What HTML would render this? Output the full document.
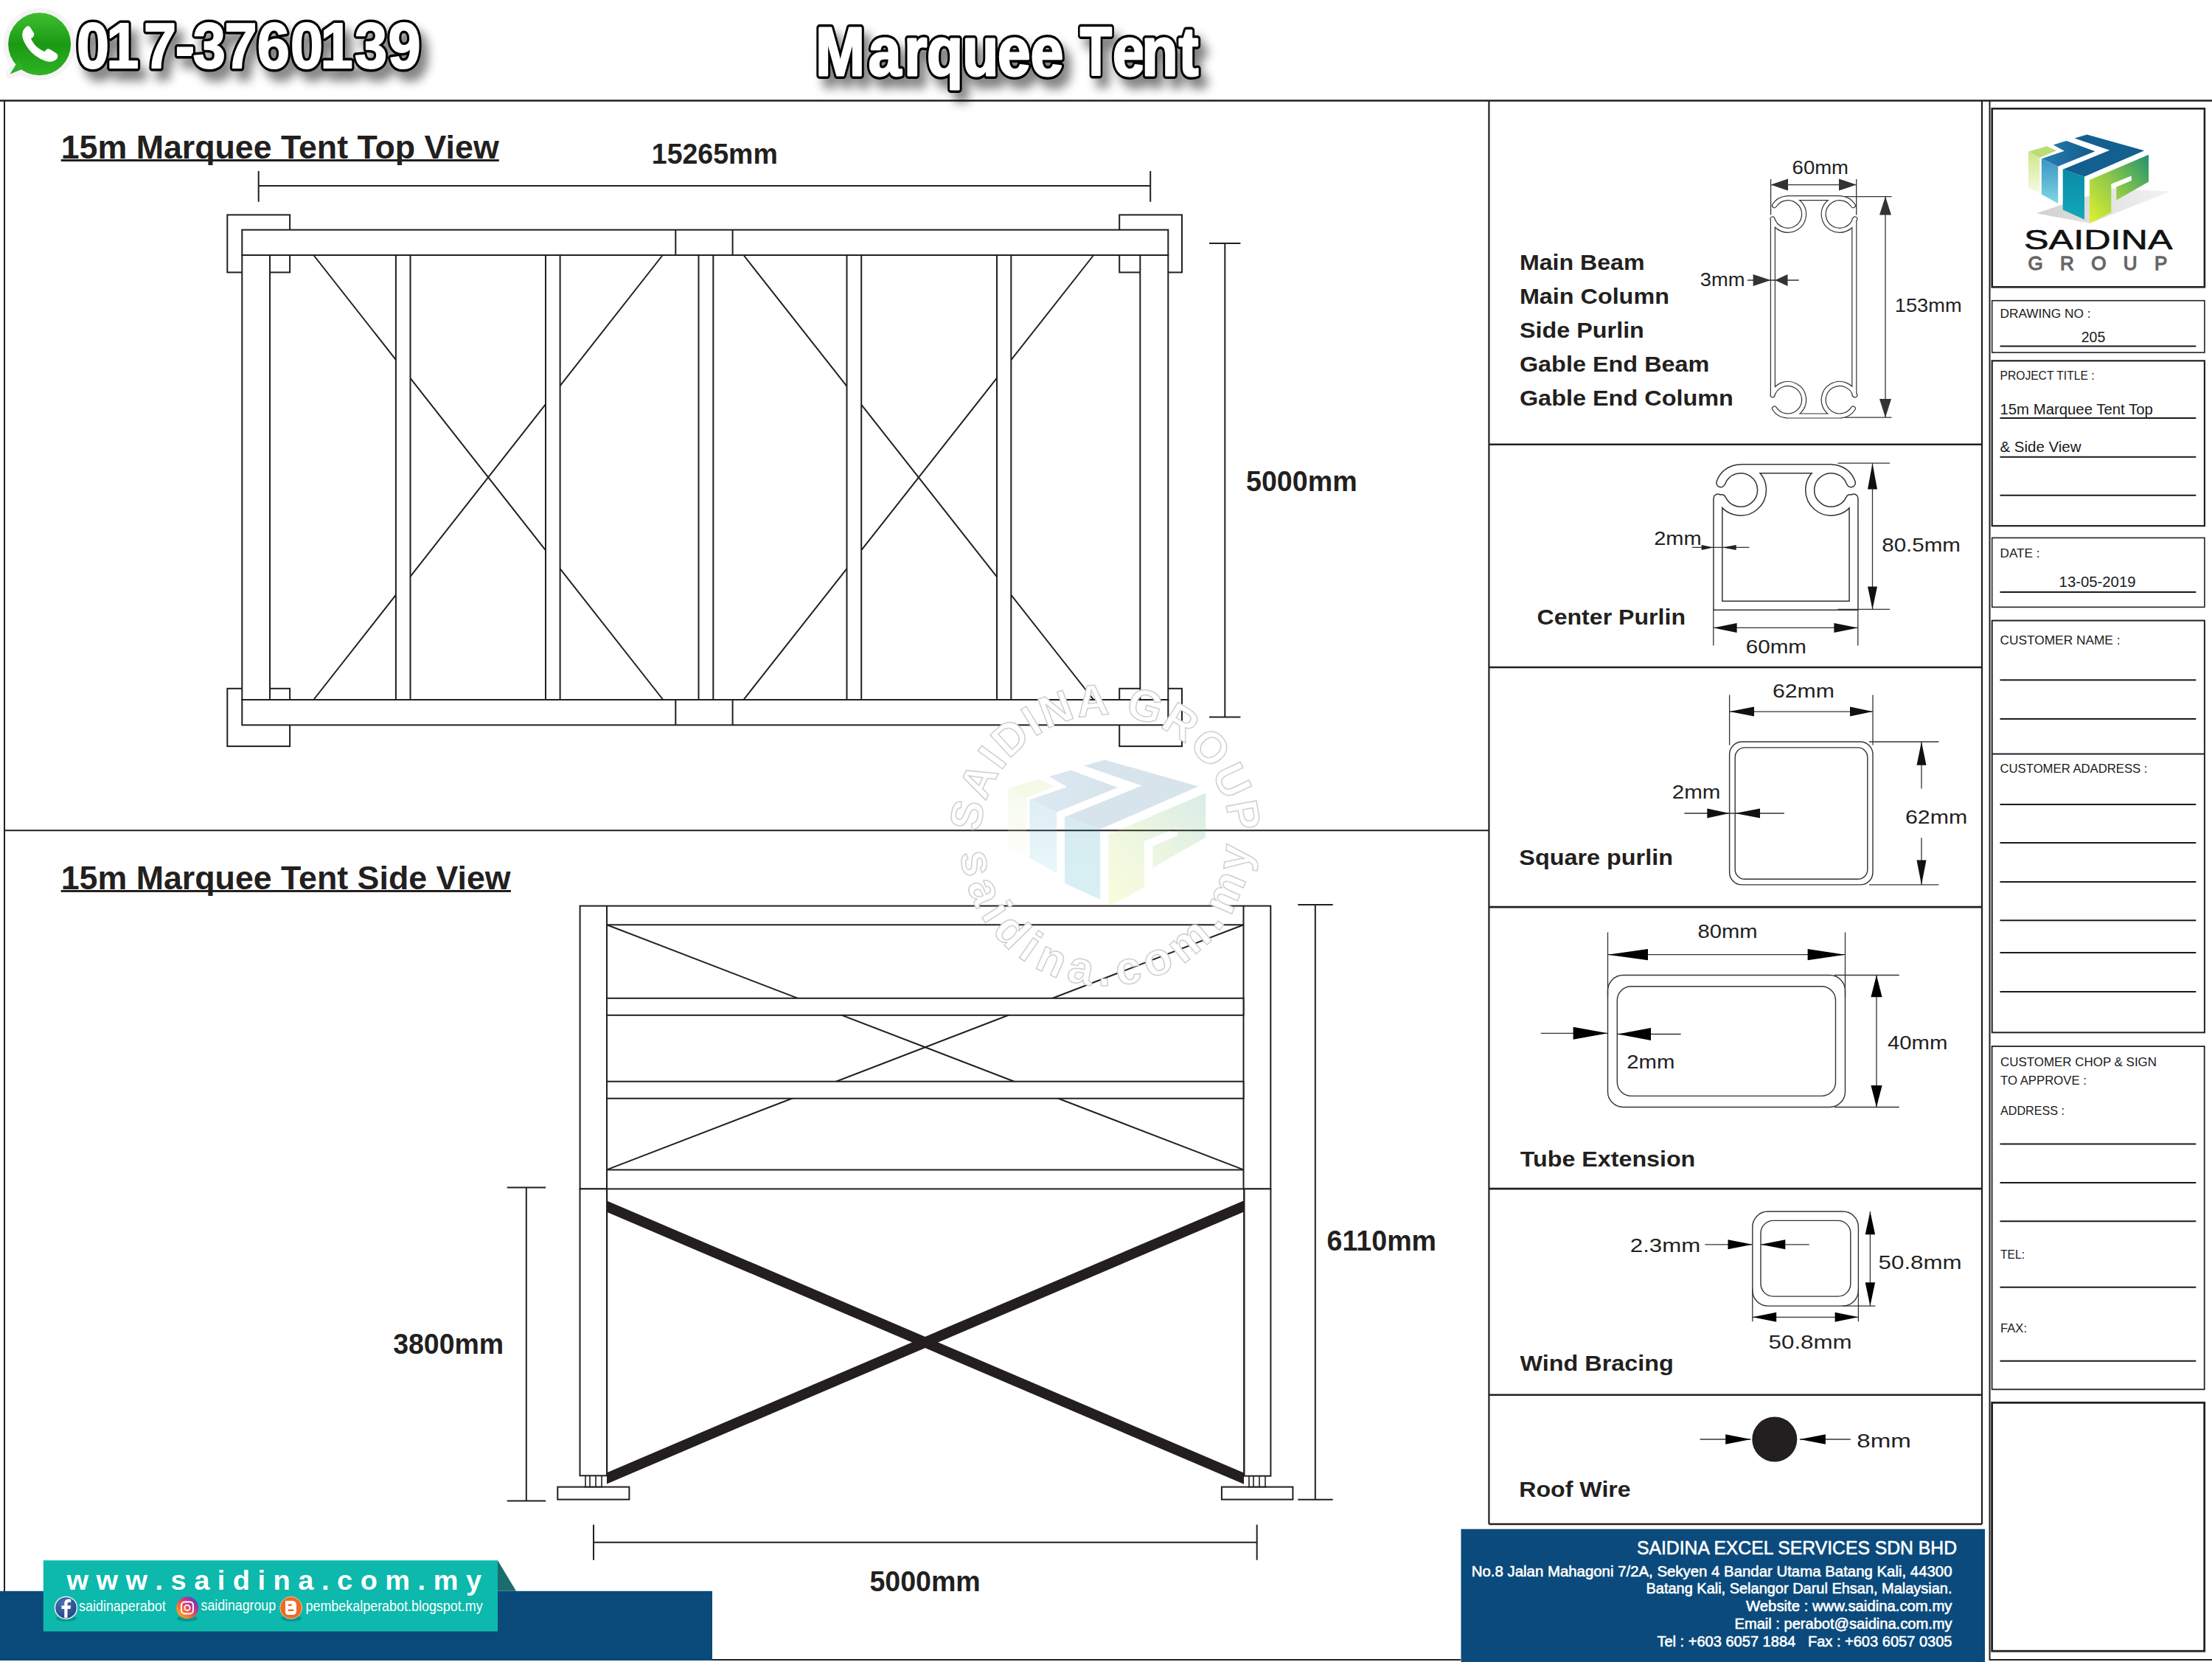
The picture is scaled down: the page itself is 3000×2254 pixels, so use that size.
<!DOCTYPE html>
<html><head><meta charset="utf-8"><title>Marquee Tent</title>
<style>html,body{margin:0;padding:0;background:#fff;width:3000px;height:2254px;overflow:hidden;position:relative;font-family:"Liberation Sans",sans-serif}</style>
</head><body>
<svg width="3000" height="2254" viewBox="0 0 3000 2254" style="position:absolute;left:0;top:0">
<defs>
<filter id="sh" x="-10%" y="-30%" width="130%" height="180%"><feGaussianBlur in="SourceAlpha" stdDeviation="7"/><feOffset dx="9" dy="13"/><feComponentTransfer><feFuncA type="linear" slope="0.5"/></feComponentTransfer><feMerge><feMergeNode/><feMergeNode in="SourceGraphic"/></feMerge></filter>
<linearGradient id="wa" x1="0" y1="0" x2="0" y2="1"><stop offset="0" stop-color="#3fbf2e"/><stop offset="0.5" stop-color="#1a9a14"/><stop offset="1" stop-color="#2fb225"/></linearGradient>
<linearGradient id="lg1" x1="0" y1="0" x2="0" y2="1"><stop offset="0" stop-color="#cfe88a"/><stop offset="1" stop-color="#f6f9e6"/></linearGradient>
<linearGradient id="lg2" x1="0" y1="0" x2="0" y2="1"><stop offset="0" stop-color="#3b93c4"/><stop offset="1" stop-color="#7fd8e2"/></linearGradient>
<linearGradient id="lg3" x1="0" y1="0" x2="1" y2="0"><stop offset="0" stop-color="#2a7db3"/><stop offset="1" stop-color="#0f5a8a"/></linearGradient>
<linearGradient id="lg4" x1="0" y1="0" x2="0" y2="1"><stop offset="0" stop-color="#0a8aa6"/><stop offset="1" stop-color="#12a8b8"/></linearGradient>
<linearGradient id="lg5" x1="0" y1="1" x2="1" y2="0"><stop offset="0" stop-color="#e2f22e"/><stop offset="0.5" stop-color="#8cc84a"/><stop offset="1" stop-color="#22916e"/></linearGradient>
<linearGradient id="lg6" x1="0" y1="0" x2="1" y2="0"><stop offset="0" stop-color="#d0d0d0"/><stop offset="1" stop-color="#f4f4f4"/></linearGradient>
<radialGradient id="fbg" cx="0.4" cy="0.3" r="0.8"><stop offset="0" stop-color="#4a74b8"/><stop offset="1" stop-color="#1c3f7a"/></radialGradient>
<linearGradient id="igg" x1="0.1" y1="0.9" x2="0.9" y2="0.1"><stop offset="0" stop-color="#f9a825"/><stop offset="0.35" stop-color="#ef6c3a"/><stop offset="0.65" stop-color="#c8358a"/><stop offset="1" stop-color="#5f3dc4"/></linearGradient>
</defs>
<rect x="0" y="0" width="3000" height="2254" fill="#fff"/>
<line x1="0.0" y1="136.5" x2="3000.0" y2="136.5" stroke="#231f20" stroke-width="2.4" />
<line x1="6.0" y1="136.5" x2="6.0" y2="2158.0" stroke="#231f20" stroke-width="2" />
<line x1="6.0" y1="1126.2" x2="2019.4" y2="1126.2" stroke="#231f20" stroke-width="2" />
<line x1="2019.4" y1="136.5" x2="2019.4" y2="2067.0" stroke="#231f20" stroke-width="2.2" />
<line x1="2688.0" y1="136.5" x2="2688.0" y2="2067.0" stroke="#231f20" stroke-width="2.2" />
<line x1="2698.5" y1="136.5" x2="2698.5" y2="2252.0" stroke="#231f20" stroke-width="2" />
<line x1="2019.4" y1="602.8" x2="2688.0" y2="602.8" stroke="#231f20" stroke-width="2.6" />
<line x1="2019.4" y1="905.0" x2="2688.0" y2="905.0" stroke="#231f20" stroke-width="2.6" />
<line x1="2019.4" y1="1230.1" x2="2688.0" y2="1230.1" stroke="#231f20" stroke-width="2.6" />
<line x1="2019.4" y1="1612.1" x2="2688.0" y2="1612.1" stroke="#231f20" stroke-width="2.6" />
<line x1="2019.4" y1="1891.7" x2="2688.0" y2="1891.7" stroke="#231f20" stroke-width="2.6" />
<line x1="2019.4" y1="2067.0" x2="2688.0" y2="2067.0" stroke="#231f20" stroke-width="2.6" />
<line x1="6.0" y1="2251.0" x2="1981.0" y2="2251.0" stroke="#231f20" stroke-width="2" />
<line x1="2698.5" y1="2251.0" x2="3000.0" y2="2251.0" stroke="#231f20" stroke-width="2" />
<g>
<circle cx="53.6" cy="59.7" r="49" fill="#f4f4f4"/>
<path d="M 22 86 L 13.5 100.5 L 30 95 Z" fill="#f4f4f4" stroke="#f4f4f4" stroke-width="12" stroke-linejoin="round"/>
<circle cx="53.6" cy="59.7" r="42.5" fill="url(#wa)"/>
<path d="M 25 82 L 13.5 100.5 L 32 93 Z" fill="#2db125"/>
<path d="M 34 38 C 30 42 29 48 32 55 C 37 67 47 77 60 82 C 67 85 73 84 77 80 C 79 77 79 74 76 72 L 68 67 C 65 65 62 67 61 70 C 52 67 45 60 42 52 C 45 51 47 48 46 45 L 41 37 C 39 34 36 35 34 38 Z" fill="#fff"/>
</g>
<g filter="url(#sh)">
<text x="103.9" y="92.2" font-family="Liberation Sans" font-weight="bold" font-size="88" fill="#000" stroke="#000" stroke-width="9" stroke-linejoin="round" textLength="44.1" lengthAdjust="spacingAndGlyphs">0</text>
<text x="103.9" y="92.2" font-family="Liberation Sans" font-weight="bold" font-size="88" fill="#fff" stroke="#fff" stroke-width="2" stroke-linejoin="round" textLength="44.1" lengthAdjust="spacingAndGlyphs">0</text>
<text x="144.2" y="92.2" font-family="Liberation Sans" font-weight="bold" font-size="88" fill="#000" stroke="#000" stroke-width="9" stroke-linejoin="round" textLength="44.1" lengthAdjust="spacingAndGlyphs">1</text>
<text x="144.2" y="92.2" font-family="Liberation Sans" font-weight="bold" font-size="88" fill="#fff" stroke="#fff" stroke-width="2" stroke-linejoin="round" textLength="44.1" lengthAdjust="spacingAndGlyphs">1</text>
<text x="195.0" y="92.2" font-family="Liberation Sans" font-weight="bold" font-size="88" fill="#000" stroke="#000" stroke-width="9" stroke-linejoin="round" textLength="44.1" lengthAdjust="spacingAndGlyphs">7</text>
<text x="195.0" y="92.2" font-family="Liberation Sans" font-weight="bold" font-size="88" fill="#fff" stroke="#fff" stroke-width="2" stroke-linejoin="round" textLength="44.1" lengthAdjust="spacingAndGlyphs">7</text>
<text x="237.7" y="92.2" font-family="Liberation Sans" font-weight="bold" font-size="88" fill="#000" stroke="#000" stroke-width="9" stroke-linejoin="round" textLength="26.4" lengthAdjust="spacingAndGlyphs">-</text>
<text x="237.7" y="92.2" font-family="Liberation Sans" font-weight="bold" font-size="88" fill="#fff" stroke="#fff" stroke-width="2" stroke-linejoin="round" textLength="26.4" lengthAdjust="spacingAndGlyphs">-</text>
<text x="261.7" y="92.2" font-family="Liberation Sans" font-weight="bold" font-size="88" fill="#000" stroke="#000" stroke-width="9" stroke-linejoin="round" textLength="44.1" lengthAdjust="spacingAndGlyphs">3</text>
<text x="261.7" y="92.2" font-family="Liberation Sans" font-weight="bold" font-size="88" fill="#fff" stroke="#fff" stroke-width="2" stroke-linejoin="round" textLength="44.1" lengthAdjust="spacingAndGlyphs">3</text>
<text x="304.6" y="92.2" font-family="Liberation Sans" font-weight="bold" font-size="88" fill="#000" stroke="#000" stroke-width="9" stroke-linejoin="round" textLength="44.1" lengthAdjust="spacingAndGlyphs">7</text>
<text x="304.6" y="92.2" font-family="Liberation Sans" font-weight="bold" font-size="88" fill="#fff" stroke="#fff" stroke-width="2" stroke-linejoin="round" textLength="44.1" lengthAdjust="spacingAndGlyphs">7</text>
<text x="348.7" y="92.2" font-family="Liberation Sans" font-weight="bold" font-size="88" fill="#000" stroke="#000" stroke-width="9" stroke-linejoin="round" textLength="44.1" lengthAdjust="spacingAndGlyphs">6</text>
<text x="348.7" y="92.2" font-family="Liberation Sans" font-weight="bold" font-size="88" fill="#fff" stroke="#fff" stroke-width="2" stroke-linejoin="round" textLength="44.1" lengthAdjust="spacingAndGlyphs">6</text>
<text x="394.0" y="92.2" font-family="Liberation Sans" font-weight="bold" font-size="88" fill="#000" stroke="#000" stroke-width="9" stroke-linejoin="round" textLength="44.1" lengthAdjust="spacingAndGlyphs">0</text>
<text x="394.0" y="92.2" font-family="Liberation Sans" font-weight="bold" font-size="88" fill="#fff" stroke="#fff" stroke-width="2" stroke-linejoin="round" textLength="44.1" lengthAdjust="spacingAndGlyphs">0</text>
<text x="434.6" y="92.2" font-family="Liberation Sans" font-weight="bold" font-size="88" fill="#000" stroke="#000" stroke-width="9" stroke-linejoin="round" textLength="44.1" lengthAdjust="spacingAndGlyphs">1</text>
<text x="434.6" y="92.2" font-family="Liberation Sans" font-weight="bold" font-size="88" fill="#fff" stroke="#fff" stroke-width="2" stroke-linejoin="round" textLength="44.1" lengthAdjust="spacingAndGlyphs">1</text>
<text x="481.0" y="92.2" font-family="Liberation Sans" font-weight="bold" font-size="88" fill="#000" stroke="#000" stroke-width="9" stroke-linejoin="round" textLength="44.1" lengthAdjust="spacingAndGlyphs">3</text>
<text x="481.0" y="92.2" font-family="Liberation Sans" font-weight="bold" font-size="88" fill="#fff" stroke="#fff" stroke-width="2" stroke-linejoin="round" textLength="44.1" lengthAdjust="spacingAndGlyphs">3</text>
<text x="526.6" y="92.2" font-family="Liberation Sans" font-weight="bold" font-size="88" fill="#000" stroke="#000" stroke-width="9" stroke-linejoin="round" textLength="44.1" lengthAdjust="spacingAndGlyphs">9</text>
<text x="526.6" y="92.2" font-family="Liberation Sans" font-weight="bold" font-size="88" fill="#fff" stroke="#fff" stroke-width="2" stroke-linejoin="round" textLength="44.1" lengthAdjust="spacingAndGlyphs">9</text>
</g>
<g filter="url(#sh)">
<text x="1106.2" y="102" font-family="Liberation Sans" font-weight="bold" font-size="93" fill="#000" stroke="#000" stroke-width="10" stroke-linejoin="round" textLength="66.6" lengthAdjust="spacingAndGlyphs">M</text>
<text x="1106.2" y="102" font-family="Liberation Sans" font-weight="bold" font-size="93" fill="#fff" stroke="#fff" stroke-width="3" stroke-linejoin="round" textLength="66.6" lengthAdjust="spacingAndGlyphs">M</text>
<text x="1177.7" y="102" font-family="Liberation Sans" font-weight="bold" font-size="93" fill="#000" stroke="#000" stroke-width="10" stroke-linejoin="round" textLength="44.5" lengthAdjust="spacingAndGlyphs">a</text>
<text x="1177.7" y="102" font-family="Liberation Sans" font-weight="bold" font-size="93" fill="#fff" stroke="#fff" stroke-width="3" stroke-linejoin="round" textLength="44.5" lengthAdjust="spacingAndGlyphs">a</text>
<text x="1226.3" y="102" font-family="Liberation Sans" font-weight="bold" font-size="93" fill="#000" stroke="#000" stroke-width="10" stroke-linejoin="round" textLength="31.1" lengthAdjust="spacingAndGlyphs">r</text>
<text x="1226.3" y="102" font-family="Liberation Sans" font-weight="bold" font-size="93" fill="#fff" stroke="#fff" stroke-width="3" stroke-linejoin="round" textLength="31.1" lengthAdjust="spacingAndGlyphs">r</text>
<text x="1257.0" y="102" font-family="Liberation Sans" font-weight="bold" font-size="93" fill="#000" stroke="#000" stroke-width="10" stroke-linejoin="round" textLength="48.9" lengthAdjust="spacingAndGlyphs">q</text>
<text x="1257.0" y="102" font-family="Liberation Sans" font-weight="bold" font-size="93" fill="#fff" stroke="#fff" stroke-width="3" stroke-linejoin="round" textLength="48.9" lengthAdjust="spacingAndGlyphs">q</text>
<text x="1305.2" y="102" font-family="Liberation Sans" font-weight="bold" font-size="93" fill="#000" stroke="#000" stroke-width="10" stroke-linejoin="round" textLength="48.9" lengthAdjust="spacingAndGlyphs">u</text>
<text x="1305.2" y="102" font-family="Liberation Sans" font-weight="bold" font-size="93" fill="#fff" stroke="#fff" stroke-width="3" stroke-linejoin="round" textLength="48.9" lengthAdjust="spacingAndGlyphs">u</text>
<text x="1353.0" y="102" font-family="Liberation Sans" font-weight="bold" font-size="93" fill="#000" stroke="#000" stroke-width="10" stroke-linejoin="round" textLength="44.5" lengthAdjust="spacingAndGlyphs">e</text>
<text x="1353.0" y="102" font-family="Liberation Sans" font-weight="bold" font-size="93" fill="#fff" stroke="#fff" stroke-width="3" stroke-linejoin="round" textLength="44.5" lengthAdjust="spacingAndGlyphs">e</text>
<text x="1397.7" y="102" font-family="Liberation Sans" font-weight="bold" font-size="93" fill="#000" stroke="#000" stroke-width="10" stroke-linejoin="round" textLength="44.5" lengthAdjust="spacingAndGlyphs">e</text>
<text x="1397.7" y="102" font-family="Liberation Sans" font-weight="bold" font-size="93" fill="#fff" stroke="#fff" stroke-width="3" stroke-linejoin="round" textLength="44.5" lengthAdjust="spacingAndGlyphs">e</text>
<text x="1464.9" y="102" font-family="Liberation Sans" font-weight="bold" font-size="93" fill="#000" stroke="#000" stroke-width="10" stroke-linejoin="round" textLength="42.9" lengthAdjust="spacingAndGlyphs">T</text>
<text x="1464.9" y="102" font-family="Liberation Sans" font-weight="bold" font-size="93" fill="#fff" stroke="#fff" stroke-width="3" stroke-linejoin="round" textLength="42.9" lengthAdjust="spacingAndGlyphs">T</text>
<text x="1509.0" y="102" font-family="Liberation Sans" font-weight="bold" font-size="93" fill="#000" stroke="#000" stroke-width="10" stroke-linejoin="round" textLength="44.5" lengthAdjust="spacingAndGlyphs">e</text>
<text x="1509.0" y="102" font-family="Liberation Sans" font-weight="bold" font-size="93" fill="#fff" stroke="#fff" stroke-width="3" stroke-linejoin="round" textLength="44.5" lengthAdjust="spacingAndGlyphs">e</text>
<text x="1548.6" y="102" font-family="Liberation Sans" font-weight="bold" font-size="93" fill="#000" stroke="#000" stroke-width="10" stroke-linejoin="round" textLength="48.9" lengthAdjust="spacingAndGlyphs">n</text>
<text x="1548.6" y="102" font-family="Liberation Sans" font-weight="bold" font-size="93" fill="#fff" stroke="#fff" stroke-width="3" stroke-linejoin="round" textLength="48.9" lengthAdjust="spacingAndGlyphs">n</text>
<text x="1598.8" y="102" font-family="Liberation Sans" font-weight="bold" font-size="93" fill="#000" stroke="#000" stroke-width="10" stroke-linejoin="round" textLength="26.6" lengthAdjust="spacingAndGlyphs">t</text>
<text x="1598.8" y="102" font-family="Liberation Sans" font-weight="bold" font-size="93" fill="#fff" stroke="#fff" stroke-width="3" stroke-linejoin="round" textLength="26.6" lengthAdjust="spacingAndGlyphs">t</text>
</g>
<text x="82.7" y="214.7" font-family="Liberation Sans" font-size="44" font-weight="bold" fill="#231f20" text-anchor="start" textLength="594.0" lengthAdjust="spacingAndGlyphs" >15m Marquee Tent Top View</text>
<line x1="82.7" y1="217.5" x2="676.8" y2="217.5" stroke="#231f20" stroke-width="3" />
<text x="883.8" y="221.5" font-family="Liberation Sans" font-size="38" font-weight="bold" fill="#231f20" text-anchor="start" textLength="171.0" lengthAdjust="spacingAndGlyphs" >15265mm</text>
<line x1="350.7" y1="252.0" x2="1560.2" y2="252.0" stroke="#231f20" stroke-width="2" />
<line x1="350.7" y1="232.0" x2="350.7" y2="273.7" stroke="#231f20" stroke-width="2" />
<line x1="1560.2" y1="232.0" x2="1560.2" y2="273.7" stroke="#231f20" stroke-width="2" />
<rect x="308.3" y="291.4" width="84.8" height="78.0" stroke="#231f20" stroke-width="2" fill="#fff" />
<rect x="308.3" y="933.8" width="84.8" height="78.3" stroke="#231f20" stroke-width="2" fill="#fff" />
<rect x="1518.2" y="291.4" width="84.8" height="78.0" stroke="#231f20" stroke-width="2" fill="#fff" />
<rect x="1518.2" y="933.8" width="84.8" height="78.3" stroke="#231f20" stroke-width="2" fill="#fff" />
<line x1="425.3" y1="346.0" x2="899.3" y2="949.0" stroke="#231f20" stroke-width="2" />
<line x1="898.7" y1="346.0" x2="425.3" y2="949.0" stroke="#231f20" stroke-width="2" />
<line x1="1008.5" y1="346.0" x2="1483.2" y2="949.0" stroke="#231f20" stroke-width="2" />
<line x1="1483.2" y1="346.0" x2="1008.5" y2="949.0" stroke="#231f20" stroke-width="2" />
<rect x="536.9" y="346.0" width="19.6" height="603.0" stroke="#231f20" stroke-width="2" fill="#fff" />
<rect x="740.0" y="346.0" width="19.6" height="603.0" stroke="#231f20" stroke-width="2" fill="#fff" />
<rect x="947.5" y="346.0" width="19.8" height="603.0" stroke="#231f20" stroke-width="2" fill="#fff" />
<rect x="1148.5" y="346.0" width="19.7" height="603.0" stroke="#231f20" stroke-width="2" fill="#fff" />
<rect x="1352.0" y="346.0" width="19.3" height="603.0" stroke="#231f20" stroke-width="2" fill="#fff" />
<rect x="328.3" y="311.7" width="1256.0" height="34.3" stroke="#231f20" stroke-width="2" fill="#fff" />
<rect x="328.3" y="949.0" width="1256.0" height="34.3" stroke="#231f20" stroke-width="2" fill="#fff" />
<line x1="916.3" y1="311.7" x2="916.3" y2="346.0" stroke="#231f20" stroke-width="2" />
<line x1="993.6" y1="311.7" x2="993.6" y2="346.0" stroke="#231f20" stroke-width="2" />
<line x1="916.3" y1="949.0" x2="916.3" y2="983.3" stroke="#231f20" stroke-width="2" />
<line x1="993.6" y1="949.0" x2="993.6" y2="983.3" stroke="#231f20" stroke-width="2" />
<rect x="328.3" y="346.0" width="37.7" height="603.0" stroke="#231f20" stroke-width="2" fill="#fff" />
<rect x="1546.3" y="346.0" width="38.0" height="603.0" stroke="#231f20" stroke-width="2" fill="#fff" />
<line x1="1661.3" y1="330.0" x2="1661.3" y2="972.5" stroke="#231f20" stroke-width="2" />
<line x1="1640.0" y1="330.0" x2="1682.4" y2="330.0" stroke="#231f20" stroke-width="2" />
<line x1="1640.0" y1="972.5" x2="1682.4" y2="972.5" stroke="#231f20" stroke-width="2" />
<text x="1690.0" y="665.6" font-family="Liberation Sans" font-size="38" font-weight="bold" fill="#231f20" text-anchor="start" textLength="150.6" lengthAdjust="spacingAndGlyphs" >5000mm</text>
<text x="82.7" y="1206.0" font-family="Liberation Sans" font-size="44" font-weight="bold" fill="#231f20" text-anchor="start" textLength="610.0" lengthAdjust="spacingAndGlyphs" >15m Marquee Tent Side View</text>
<line x1="82.7" y1="1208.5" x2="693.0" y2="1208.5" stroke="#231f20" stroke-width="3" />
<line x1="823.0" y1="1254.2" x2="1686.5" y2="1586.4" stroke="#231f20" stroke-width="2" />
<line x1="823.0" y1="1586.4" x2="1686.5" y2="1254.2" stroke="#231f20" stroke-width="2" />
<rect x="786.6" y="1228.6" width="936.7" height="383.8" stroke="#231f20" stroke-width="2" fill="none" />
<line x1="823.0" y1="1228.6" x2="823.0" y2="1612.4" stroke="#231f20" stroke-width="2" />
<line x1="1686.5" y1="1228.6" x2="1686.5" y2="1612.4" stroke="#231f20" stroke-width="2" />
<line x1="823.0" y1="1254.2" x2="1686.5" y2="1254.2" stroke="#231f20" stroke-width="2" />
<rect x="823.0" y="1353.8" width="863.5" height="23.0" stroke="#231f20" stroke-width="2" fill="#fff" />
<rect x="823.0" y="1466.7" width="863.5" height="23.0" stroke="#231f20" stroke-width="2" fill="#fff" />
<line x1="823.0" y1="1586.4" x2="1686.5" y2="1586.4" stroke="#231f20" stroke-width="2" />
<rect x="786.5" y="1612.4" width="36.7" height="388.9" stroke="#231f20" stroke-width="2" fill="#fff" />
<rect x="1687.3" y="1612.4" width="36.1" height="389.3" stroke="#231f20" stroke-width="2" fill="#fff" />
<rect x="756.3" y="2016.6" width="97.1" height="17.0" stroke="#231f20" stroke-width="2" fill="#fff" />
<line x1="794.0" y1="2001.5" x2="794.0" y2="2016.6" stroke="#231f20" stroke-width="1.6" />
<line x1="800.0" y1="2001.5" x2="800.0" y2="2016.6" stroke="#231f20" stroke-width="1.6" />
<line x1="808.0" y1="2001.5" x2="808.0" y2="2016.6" stroke="#231f20" stroke-width="1.6" />
<line x1="816.0" y1="2001.5" x2="816.0" y2="2016.6" stroke="#231f20" stroke-width="1.6" />
<line x1="792.0" y1="2016.6" x2="818.0" y2="2016.6" stroke="#231f20" stroke-width="1.5" />
<rect x="1656.9" y="2016.6" width="96.5" height="17.0" stroke="#231f20" stroke-width="2" fill="#fff" />
<line x1="1694.0" y1="2001.5" x2="1694.0" y2="2016.6" stroke="#231f20" stroke-width="1.6" />
<line x1="1700.0" y1="2001.5" x2="1700.0" y2="2016.6" stroke="#231f20" stroke-width="1.6" />
<line x1="1708.0" y1="2001.5" x2="1708.0" y2="2016.6" stroke="#231f20" stroke-width="1.6" />
<line x1="1716.0" y1="2001.5" x2="1716.0" y2="2016.6" stroke="#231f20" stroke-width="1.6" />
<line x1="1692.0" y1="2016.6" x2="1718.0" y2="2016.6" stroke="#231f20" stroke-width="1.5" />
<clipPath id="xc"><rect x="823" y="1612" width="864" height="410"/></clipPath>
<g clip-path="url(#xc)"><line x1="815" y1="1632.6" x2="1694.5" y2="2008.4" stroke="#231f20" stroke-width="14"/>
<line x1="815" y1="2008.4" x2="1694.5" y2="1632.6" stroke="#231f20" stroke-width="14"/></g>
<line x1="823.0" y1="1612.4" x2="823.0" y2="2001.3" stroke="#231f20" stroke-width="2" />
<line x1="1687.3" y1="1612.4" x2="1687.3" y2="2001.7" stroke="#231f20" stroke-width="2" />
<line x1="713.8" y1="1610.5" x2="713.8" y2="2035.4" stroke="#231f20" stroke-width="2" />
<line x1="687.7" y1="1610.5" x2="740.2" y2="1610.5" stroke="#231f20" stroke-width="2" />
<line x1="687.7" y1="2035.4" x2="740.2" y2="2035.4" stroke="#231f20" stroke-width="2" />
<text x="533.2" y="1835.6" font-family="Liberation Sans" font-size="38" font-weight="bold" fill="#231f20" text-anchor="start" textLength="150.0" lengthAdjust="spacingAndGlyphs" >3800mm</text>
<line x1="1783.8" y1="1227.0" x2="1783.8" y2="2033.8" stroke="#231f20" stroke-width="2" />
<line x1="1760.3" y1="1227.0" x2="1807.7" y2="1227.0" stroke="#231f20" stroke-width="2" />
<line x1="1760.3" y1="2033.8" x2="1807.7" y2="2033.8" stroke="#231f20" stroke-width="2" />
<text x="1799.6" y="1695.6" font-family="Liberation Sans" font-size="38" font-weight="bold" fill="#231f20" text-anchor="start" textLength="148.4" lengthAdjust="spacingAndGlyphs" >6110mm</text>
<line x1="805.0" y1="2091.7" x2="1704.7" y2="2091.7" stroke="#231f20" stroke-width="2" />
<line x1="805.0" y1="2067.7" x2="805.0" y2="2115.7" stroke="#231f20" stroke-width="2" />
<line x1="1704.7" y1="2067.7" x2="1704.7" y2="2115.7" stroke="#231f20" stroke-width="2" />
<text x="1179.4" y="2158.0" font-family="Liberation Sans" font-size="38" font-weight="bold" fill="#231f20" text-anchor="start" textLength="150.3" lengthAdjust="spacingAndGlyphs" >5000mm</text>
<text x="2060.9" y="365.7" font-family="Liberation Sans" font-size="30" font-weight="bold" fill="#231f20" text-anchor="start" textLength="169.6" lengthAdjust="spacingAndGlyphs" >Main Beam</text>
<text x="2060.9" y="412.0" font-family="Liberation Sans" font-size="30" font-weight="bold" fill="#231f20" text-anchor="start" textLength="203.0" lengthAdjust="spacingAndGlyphs" >Main Column</text>
<text x="2060.9" y="458.0" font-family="Liberation Sans" font-size="30" font-weight="bold" fill="#231f20" text-anchor="start" textLength="169.0" lengthAdjust="spacingAndGlyphs" >Side Purlin</text>
<text x="2060.9" y="504.1" font-family="Liberation Sans" font-size="30" font-weight="bold" fill="#231f20" text-anchor="start" textLength="257.5" lengthAdjust="spacingAndGlyphs" >Gable End Beam</text>
<text x="2060.9" y="549.6" font-family="Liberation Sans" font-size="30" font-weight="bold" fill="#231f20" text-anchor="start" textLength="290.0" lengthAdjust="spacingAndGlyphs" >Gable End Column</text>
<path d="M 2406.52 278.63 A 21.8 21.8 0 1 1 2403.95 296.87 M 2513.28 278.63 A 21.8 21.8 0 1 0 2515.85 296.87 M 2406.52 554.07 A 21.8 21.8 0 1 0 2403.95 535.83 M 2513.28 554.07 A 21.8 21.8 0 1 1 2515.85 535.83 M 2424.8 268.7 L 2495.0 268.7 M 2424.8 564.0 L 2495.0 564.0 M 2404.4 298.0 L 2404.4 535.0 M 2514.8 298.0 L 2514.8 535.0" fill="none" stroke="#333" stroke-width="7.2" stroke-linecap="round"/>
<path d="M 2406.52 278.63 A 21.8 21.8 0 1 1 2403.95 296.87 M 2513.28 278.63 A 21.8 21.8 0 1 0 2515.85 296.87 M 2406.52 554.07 A 21.8 21.8 0 1 0 2403.95 535.83 M 2513.28 554.07 A 21.8 21.8 0 1 1 2515.85 535.83 M 2424.8 268.7 L 2495.0 268.7 M 2424.8 564.0 L 2495.0 564.0 M 2404.4 298.0 L 2404.4 535.0 M 2514.8 298.0 L 2514.8 535.0" fill="none" stroke="#fff" stroke-width="4.8" stroke-linecap="round"/>
<line x1="2401.6" y1="243.0" x2="2401.6" y2="291.5" stroke="#333" stroke-width="1.3" />
<line x1="2517.7" y1="243.0" x2="2517.7" y2="291.5" stroke="#333" stroke-width="1.3" />
<line x1="2401.6" y1="250.6" x2="2517.7" y2="250.6" stroke="#333" stroke-width="1.3" />
<polygon points="2401.6,250.6 2425.0,242.6 2425.0,258.6" fill="#333" />
<polygon points="2517.7,250.6 2494.0,258.6 2494.0,242.6" fill="#333" />
<text x="2430.6" y="236.4" font-family="Liberation Sans" font-size="26" font-weight="normal" fill="#222" text-anchor="start" textLength="76.4" lengthAdjust="spacingAndGlyphs" >60mm</text>
<line x1="2501.6" y1="266.6" x2="2565.5" y2="266.6" stroke="#333" stroke-width="1.3" />
<line x1="2501.6" y1="566.2" x2="2565.5" y2="566.2" stroke="#333" stroke-width="1.3" />
<line x1="2557.0" y1="266.6" x2="2557.0" y2="566.2" stroke="#333" stroke-width="1.3" />
<polygon points="2557.0,266.6 2565.0,291.5 2549.0,291.5" fill="#333" />
<polygon points="2557.0,566.2 2549.0,541.0 2565.0,541.0" fill="#333" />
<text x="2569.8" y="423.3" font-family="Liberation Sans" font-size="26" font-weight="normal" fill="#222" text-anchor="start" textLength="90.8" lengthAdjust="spacingAndGlyphs" >153mm</text>
<line x1="2370.0" y1="380.0" x2="2439.7" y2="380.0" stroke="#333" stroke-width="1.3" />
<polygon points="2401.6,380.0 2377.6,388.0 2377.6,372.0" fill="#333" />
<polygon points="2407.4,380.0 2424.5,372.0 2424.5,388.0" fill="#333" />
<text x="2305.7" y="387.5" font-family="Liberation Sans" font-size="26" font-weight="normal" fill="#222" text-anchor="start" textLength="60.7" lengthAdjust="spacingAndGlyphs" >3mm</text>
<path d="M 2333.83 654.68 A 28.7 28.7 0 1 1 2334.79 676.63 M 2510.37 654.68 A 28.7 28.7 0 1 0 2509.41 676.63 M 2360.8 635.8 L 2483.4 635.8 M 2329.9 676 L 2329.9 821.3 L 2514 821.3 L 2514 676" fill="none" stroke="#333" stroke-width="13.4" stroke-linecap="round"/>
<path d="M 2333.83 654.68 A 28.7 28.7 0 1 1 2334.79 676.63 M 2510.37 654.68 A 28.7 28.7 0 1 0 2509.41 676.63 M 2360.8 635.8 L 2483.4 635.8 M 2329.9 676 L 2329.9 821.3 L 2514 821.3 L 2514 676" fill="none" stroke="#fff" stroke-width="10.4" stroke-linecap="round"/>
<text x="2084.5" y="846.9" font-family="Liberation Sans" font-size="30" font-weight="bold" fill="#231f20" text-anchor="start" textLength="201.5" lengthAdjust="spacingAndGlyphs" >Center Purlin</text>
<text x="2243.2" y="739.3" font-family="Liberation Sans" font-size="26" font-weight="normal" fill="#222" text-anchor="start" textLength="64.5" lengthAdjust="spacingAndGlyphs" >2mm</text>
<line x1="2295.0" y1="742.4" x2="2372.3" y2="742.4" stroke="#333" stroke-width="1.3" />
<polygon points="2323.8,742.4 2307.7,745.9 2307.7,738.9" fill="#222" />
<polygon points="2335.9,742.4 2354.7,738.9 2354.7,745.9" fill="#222" />
<line x1="2539.5" y1="628.2" x2="2539.5" y2="826.3" stroke="#333" stroke-width="1.3" />
<line x1="2492.5" y1="628.2" x2="2563.0" y2="628.2" stroke="#333" stroke-width="1.3" />
<line x1="2492.5" y1="826.3" x2="2563.0" y2="826.3" stroke="#333" stroke-width="1.3" />
<polygon points="2539.5,628.2 2546.0,663.6 2533.0,663.6" fill="#111" />
<polygon points="2539.5,826.3 2533.0,795.4 2546.0,795.4" fill="#111" />
<text x="2552.2" y="747.8" font-family="Liberation Sans" font-size="26" font-weight="normal" fill="#222" text-anchor="start" textLength="106.8" lengthAdjust="spacingAndGlyphs" >80.5mm</text>
<line x1="2323.8" y1="826.3" x2="2323.8" y2="875.6" stroke="#333" stroke-width="1.3" />
<line x1="2519.8" y1="826.3" x2="2519.8" y2="875.6" stroke="#333" stroke-width="1.3" />
<line x1="2323.8" y1="851.4" x2="2519.8" y2="851.4" stroke="#333" stroke-width="1.3" />
<polygon points="2323.8,851.4 2355.6,844.9 2355.6,857.9" fill="#111" />
<polygon points="2519.8,851.4 2487.4,857.9 2487.4,844.9" fill="#111" />
<text x="2367.7" y="886.3" font-family="Liberation Sans" font-size="26" font-weight="normal" fill="#222" text-anchor="start" textLength="82.3" lengthAdjust="spacingAndGlyphs" >60mm</text>
<rect x="2345.6" y="1006" width="194.4" height="193.9" rx="17" ry="17" fill="none" stroke="#333" stroke-width="1.4"/>
<rect x="2353.2" y="1013.9" width="179.6" height="178.4" rx="13" ry="13" fill="none" stroke="#333" stroke-width="1.4"/>
<text x="2060.3" y="1172.6" font-family="Liberation Sans" font-size="30" font-weight="bold" fill="#231f20" text-anchor="start" textLength="208.7" lengthAdjust="spacingAndGlyphs" >Square purlin</text>
<line x1="2345.6" y1="942.4" x2="2345.6" y2="1010.6" stroke="#333" stroke-width="1.3" />
<line x1="2540.0" y1="942.4" x2="2540.0" y2="1010.6" stroke="#333" stroke-width="1.3" />
<line x1="2345.6" y1="965.1" x2="2540.0" y2="965.1" stroke="#333" stroke-width="1.3" />
<polygon points="2345.6,965.1 2379.0,958.6 2379.0,971.6" fill="#111" />
<polygon points="2540.0,965.1 2509.0,971.6 2509.0,958.6" fill="#111" />
<text x="2404.0" y="946.0" font-family="Liberation Sans" font-size="26" font-weight="normal" fill="#222" text-anchor="start" textLength="84.0" lengthAdjust="spacingAndGlyphs" >62mm</text>
<line x1="2535.0" y1="1006.0" x2="2629.4" y2="1006.0" stroke="#333" stroke-width="1.3" />
<line x1="2535.0" y1="1199.9" x2="2629.4" y2="1199.9" stroke="#333" stroke-width="1.3" />
<line x1="2606.0" y1="1006.0" x2="2606.0" y2="1069.6" stroke="#333" stroke-width="1.3" />
<line x1="2606.0" y1="1136.3" x2="2606.0" y2="1199.9" stroke="#333" stroke-width="1.3" />
<polygon points="2606.0,1006.0 2612.5,1037.8 2599.5,1037.8" fill="#111" />
<polygon points="2606.0,1199.9 2599.5,1166.6 2612.5,1166.6" fill="#111" />
<text x="2584.0" y="1116.6" font-family="Liberation Sans" font-size="26" font-weight="normal" fill="#222" text-anchor="start" textLength="84.2" lengthAdjust="spacingAndGlyphs" >62mm</text>
<text x="2267.8" y="1083.3" font-family="Liberation Sans" font-size="26" font-weight="normal" fill="#222" text-anchor="start" textLength="65.7" lengthAdjust="spacingAndGlyphs" >2mm</text>
<line x1="2284.4" y1="1103.0" x2="2419.8" y2="1103.0" stroke="#333" stroke-width="1.3" />
<polygon points="2345.6,1103.0 2315.3,1109.5 2315.3,1096.5" fill="#111" />
<polygon points="2353.2,1103.0 2387.0,1096.5 2387.0,1109.5" fill="#111" />
<rect x="2180.5" y="1322.5" width="322" height="179" rx="21" ry="21" fill="none" stroke="#333" stroke-width="1.4"/>
<rect x="2193.3" y="1337.7" width="296.2" height="148.7" rx="19" ry="19" fill="none" stroke="#333" stroke-width="1.4"/>
<text x="2061.8" y="1581.8" font-family="Liberation Sans" font-size="30" font-weight="bold" fill="#231f20" text-anchor="start" textLength="237.5" lengthAdjust="spacingAndGlyphs" >Tube Extension</text>
<line x1="2180.5" y1="1264.4" x2="2180.5" y2="1352.0" stroke="#333" stroke-width="1.3" />
<line x1="2502.5" y1="1264.4" x2="2502.5" y2="1352.0" stroke="#333" stroke-width="1.3" />
<line x1="2180.5" y1="1294.7" x2="2502.5" y2="1294.7" stroke="#333" stroke-width="1.3" />
<polygon points="2180.5,1294.7 2235.0,1287.1 2235.0,1302.3" fill="#000" />
<polygon points="2502.5,1294.7 2451.6,1302.3 2451.6,1287.1" fill="#000" />
<text x="2302.6" y="1272.0" font-family="Liberation Sans" font-size="26" font-weight="normal" fill="#222" text-anchor="start" textLength="80.9" lengthAdjust="spacingAndGlyphs" >80mm</text>
<line x1="2488.0" y1="1322.5" x2="2575.8" y2="1322.5" stroke="#333" stroke-width="1.3" />
<line x1="2488.0" y1="1501.5" x2="2575.8" y2="1501.5" stroke="#333" stroke-width="1.3" />
<line x1="2545.0" y1="1322.5" x2="2545.0" y2="1501.5" stroke="#333" stroke-width="1.3" />
<polygon points="2545.0,1322.5 2552.6,1352.2 2537.4,1352.2" fill="#000" />
<polygon points="2545.0,1501.5 2537.4,1471.9 2552.6,1471.9" fill="#000" />
<text x="2560.0" y="1422.5" font-family="Liberation Sans" font-size="26" font-weight="normal" fill="#222" text-anchor="start" textLength="81.5" lengthAdjust="spacingAndGlyphs" >40mm</text>
<line x1="2089.7" y1="1401.3" x2="2180.5" y2="1401.3" stroke="#333" stroke-width="1.3" />
<polygon points="2180.5,1401.3 2133.6,1409.8 2133.6,1392.8" fill="#000" />
<line x1="2194.0" y1="1402.5" x2="2279.6" y2="1402.5" stroke="#333" stroke-width="1.3" />
<polygon points="2194.0,1402.5 2239.0,1394.0 2239.0,1411.0" fill="#000" />
<text x="2206.3" y="1449.1" font-family="Liberation Sans" font-size="26" font-weight="normal" fill="#222" text-anchor="start" textLength="65.1" lengthAdjust="spacingAndGlyphs" >2mm</text>
<rect x="2376.8" y="1643" width="143.6" height="128.1" rx="21" ry="21" fill="none" stroke="#333" stroke-width="1.4"/>
<rect x="2388" y="1655.4" width="121.8" height="102.7" rx="17" ry="17" fill="none" stroke="#333" stroke-width="1.4"/>
<text x="2061.5" y="1859.0" font-family="Liberation Sans" font-size="30" font-weight="bold" fill="#231f20" text-anchor="start" textLength="208.4" lengthAdjust="spacingAndGlyphs" >Wind Bracing</text>
<text x="2210.8" y="1698.4" font-family="Liberation Sans" font-size="26" font-weight="normal" fill="#222" text-anchor="start" textLength="95.4" lengthAdjust="spacingAndGlyphs" >2.3mm</text>
<line x1="2312.3" y1="1687.8" x2="2376.8" y2="1687.8" stroke="#333" stroke-width="1.3" />
<polygon points="2376.8,1687.8 2343.5,1694.3 2343.5,1681.3" fill="#000" />
<line x1="2388.0" y1="1687.8" x2="2453.7" y2="1687.8" stroke="#333" stroke-width="1.3" />
<polygon points="2388.0,1687.8 2421.3,1681.3 2421.3,1694.3" fill="#000" />
<line x1="2536.4" y1="1643.0" x2="2536.4" y2="1771.0" stroke="#333" stroke-width="1.3" />
<line x1="2498.6" y1="1771.1" x2="2543.4" y2="1771.1" stroke="#333" stroke-width="1.3" />
<polygon points="2536.4,1643.0 2543.1,1674.2 2529.7,1674.2" fill="#000" />
<polygon points="2536.4,1771.0 2529.7,1739.3 2543.1,1739.3" fill="#000" />
<text x="2547.6" y="1721.2" font-family="Liberation Sans" font-size="26" font-weight="normal" fill="#222" text-anchor="start" textLength="113.0" lengthAdjust="spacingAndGlyphs" >50.8mm</text>
<line x1="2376.8" y1="1748.0" x2="2376.8" y2="1792.3" stroke="#333" stroke-width="1.3" />
<line x1="2520.4" y1="1748.0" x2="2520.4" y2="1792.3" stroke="#333" stroke-width="1.3" />
<line x1="2376.8" y1="1786.3" x2="2520.4" y2="1786.3" stroke="#333" stroke-width="1.3" />
<polygon points="2376.8,1786.3 2409.2,1779.8 2409.2,1792.8" fill="#000" />
<polygon points="2520.4,1786.3 2488.6,1792.8 2488.6,1779.8" fill="#000" />
<text x="2398.6" y="1828.7" font-family="Liberation Sans" font-size="26" font-weight="normal" fill="#222" text-anchor="start" textLength="113.0" lengthAdjust="spacingAndGlyphs" >50.8mm</text>
<circle cx="2406.8" cy="1952" r="30.5" fill="#231f20"/>
<line x1="2305.6" y1="1952.0" x2="2374.4" y2="1952.0" stroke="#333" stroke-width="1.3" />
<polygon points="2374.4,1952.0 2340.2,1958.7 2340.2,1945.3" fill="#000" />
<line x1="2441.0" y1="1952.0" x2="2509.8" y2="1952.0" stroke="#333" stroke-width="1.3" />
<polygon points="2441.0,1952.0 2475.9,1945.3 2475.9,1958.7" fill="#000" />
<text x="2518.3" y="1962.6" font-family="Liberation Sans" font-size="26" font-weight="normal" fill="#222" text-anchor="start" textLength="73.6" lengthAdjust="spacingAndGlyphs" >8mm</text>
<text x="2060.3" y="2030.0" font-family="Liberation Sans" font-size="30" font-weight="bold" fill="#231f20" text-anchor="start" textLength="151.4" lengthAdjust="spacingAndGlyphs" >Roof Wire</text>
<rect x="2701.7" y="147.3" width="288.2" height="242.0" stroke="#222" stroke-width="2.6" fill="none" />
<rect x="2701.7" y="407.7" width="288.2" height="70.4" stroke="#222" stroke-width="1.6" fill="none" />
<rect x="2701.7" y="489.3" width="288.2" height="223.9" stroke="#222" stroke-width="2.2" fill="none" />
<rect x="2701.7" y="729.4" width="288.2" height="94.0" stroke="#222" stroke-width="1.6" fill="none" />
<rect x="2701.7" y="841.6" width="288.2" height="558.7" stroke="#222" stroke-width="2" fill="none" />
<line x1="2701.7" y1="1022.6" x2="2989.9" y2="1022.6" stroke="#222" stroke-width="2" />
<rect x="2701.6" y="1419.0" width="288.1" height="465.3" stroke="#222" stroke-width="1.8" fill="none" />
<rect x="2701.6" y="1902.3" width="288.1" height="336.9" stroke="#222" stroke-width="2.8" fill="none" />
<text x="2712.5" y="430.8" font-family="Liberation Sans" font-size="17" font-weight="normal" fill="#1a1a1a" text-anchor="start" textLength="123.0" lengthAdjust="spacingAndGlyphs" >DRAWING NO :</text>
<text x="2839.0" y="464.4" font-family="Liberation Sans" font-size="19.5" font-weight="normal" fill="#1a1a1a" text-anchor="middle" >205</text>
<line x1="2712.5" y1="469.5" x2="2978.3" y2="469.5" stroke="#1a1a1a" stroke-width="2" />
<text x="2712.5" y="514.6" font-family="Liberation Sans" font-size="17" font-weight="normal" fill="#1a1a1a" text-anchor="start" textLength="128.0" lengthAdjust="spacingAndGlyphs" >PROJECT TITLE :</text>
<text x="2712.5" y="561.6" font-family="Liberation Sans" font-size="19.5" font-weight="normal" fill="#1a1a1a" text-anchor="start" textLength="207.3" lengthAdjust="spacingAndGlyphs" >15m Marquee Tent Top</text>
<line x1="2712.5" y1="567.0" x2="2978.3" y2="567.0" stroke="#1a1a1a" stroke-width="2" />
<text x="2712.5" y="613.2" font-family="Liberation Sans" font-size="19.5" font-weight="normal" fill="#1a1a1a" text-anchor="start" textLength="110.0" lengthAdjust="spacingAndGlyphs" >&amp; Side View</text>
<line x1="2712.5" y1="619.7" x2="2978.3" y2="619.7" stroke="#1a1a1a" stroke-width="2" />
<line x1="2712.5" y1="671.7" x2="2978.3" y2="671.7" stroke="#1a1a1a" stroke-width="2" />
<text x="2712.5" y="756.3" font-family="Liberation Sans" font-size="17" font-weight="normal" fill="#1a1a1a" text-anchor="start" textLength="54.0" lengthAdjust="spacingAndGlyphs" >DATE :</text>
<text x="2792.6" y="796.1" font-family="Liberation Sans" font-size="19.5" font-weight="normal" fill="#1a1a1a" text-anchor="start" textLength="103.9" lengthAdjust="spacingAndGlyphs" >13-05-2019</text>
<line x1="2712.5" y1="803.1" x2="2978.3" y2="803.1" stroke="#1a1a1a" stroke-width="2" />
<text x="2712.5" y="874.1" font-family="Liberation Sans" font-size="17" font-weight="normal" fill="#1a1a1a" text-anchor="start" textLength="163.0" lengthAdjust="spacingAndGlyphs" >CUSTOMER NAME :</text>
<line x1="2712.5" y1="922.2" x2="2978.3" y2="922.2" stroke="#1a1a1a" stroke-width="2" />
<line x1="2712.5" y1="975.0" x2="2978.3" y2="975.0" stroke="#1a1a1a" stroke-width="2" />
<text x="2712.5" y="1047.8" font-family="Liberation Sans" font-size="17" font-weight="normal" fill="#1a1a1a" text-anchor="start" textLength="200.0" lengthAdjust="spacingAndGlyphs" >CUSTOMER ADADRESS :</text>
<line x1="2712.5" y1="1091.0" x2="2978.3" y2="1091.0" stroke="#1a1a1a" stroke-width="2" />
<line x1="2712.5" y1="1143.0" x2="2978.3" y2="1143.0" stroke="#1a1a1a" stroke-width="2" />
<line x1="2712.5" y1="1195.9" x2="2978.3" y2="1195.9" stroke="#1a1a1a" stroke-width="2" />
<line x1="2712.5" y1="1248.3" x2="2978.3" y2="1248.3" stroke="#1a1a1a" stroke-width="2" />
<line x1="2712.5" y1="1292.0" x2="2978.3" y2="1292.0" stroke="#1a1a1a" stroke-width="2" />
<line x1="2712.5" y1="1344.9" x2="2978.3" y2="1344.9" stroke="#1a1a1a" stroke-width="2" />
<text x="2713.0" y="1446.2" font-family="Liberation Sans" font-size="17" font-weight="normal" fill="#1a1a1a" text-anchor="start" textLength="212.0" lengthAdjust="spacingAndGlyphs" >CUSTOMER CHOP &amp; SIGN</text>
<text x="2713.0" y="1470.9" font-family="Liberation Sans" font-size="17" font-weight="normal" fill="#1a1a1a" text-anchor="start" textLength="117.0" lengthAdjust="spacingAndGlyphs" >TO APPROVE :</text>
<text x="2713.0" y="1512.0" font-family="Liberation Sans" font-size="17" font-weight="normal" fill="#1a1a1a" text-anchor="start" textLength="87.0" lengthAdjust="spacingAndGlyphs" >ADDRESS :</text>
<line x1="2712.5" y1="1551.5" x2="2978.3" y2="1551.5" stroke="#1a1a1a" stroke-width="2" />
<line x1="2712.5" y1="1603.9" x2="2978.3" y2="1603.9" stroke="#1a1a1a" stroke-width="2" />
<line x1="2712.5" y1="1656.3" x2="2978.3" y2="1656.3" stroke="#1a1a1a" stroke-width="2" />
<text x="2713.0" y="1706.6" font-family="Liberation Sans" font-size="17" font-weight="normal" fill="#1a1a1a" text-anchor="start" textLength="33.0" lengthAdjust="spacingAndGlyphs" >TEL:</text>
<line x1="2712.5" y1="1745.7" x2="2978.3" y2="1745.7" stroke="#1a1a1a" stroke-width="2" />
<text x="2713.0" y="1806.8" font-family="Liberation Sans" font-size="17" font-weight="normal" fill="#1a1a1a" text-anchor="start" textLength="36.0" lengthAdjust="spacingAndGlyphs" >FAX:</text>
<line x1="2712.5" y1="1845.8" x2="2978.3" y2="1845.8" stroke="#1a1a1a" stroke-width="2" />
<polygon points="2761.9,289.3 2862.3,255.5 2943.9,259.5 2834.5,302.8" fill="url(#lg6)" />
<polygon points="2750.9,205.8 2775.8,198.3 2789.2,204.3 2766.4,213.8" fill="#bcdc74" />
<polygon points="2750.9,205.8 2766.4,213.8 2766.4,262.5 2750.9,254.5" fill="url(#lg1)" />
<polygon points="2768.8,215.3 2799.7,204.8 2784.8,196.4 2802.7,190.9 2841.4,205.3 2791.2,225.7" fill="url(#lg3)" />
<polygon points="2768.8,215.3 2791.2,225.7 2791.2,275.9 2768.8,263.5" fill="url(#lg2)" />
<polygon points="2797.7,229.7 2861.3,203.8 2813.6,187.4 2830.5,182.4 2908.1,204.3 2827.0,239.6" fill="#125f90" />
<polygon points="2797.7,229.7 2827.0,239.6 2827.0,297.8 2797.7,284.4" fill="url(#lg4)" />
<polygon points="2834.0,244.1 2914.1,209.8 2914.1,246.6 2870.3,271.4 2870.3,253.5 2890.7,245.1 2890.7,238.6 2863.3,249.6 2863.3,287.9 2834.0,303.3" fill="url(#lg5)" />
<text x="2745.0" y="337.7" font-family="Liberation Sans" font-size="36" font-weight="normal" fill="#111" text-anchor="start" textLength="201.5" lengthAdjust="spacingAndGlyphs" stroke="#111" stroke-width="0.6">SAIDINA</text>
<text x="2750.4" y="365.5" font-family="Liberation Sans" font-size="26" fill="#666" stroke="#666" stroke-width="1.3" textLength="188.9" lengthAdjust="spacing">GROUP</text>
<g opacity="0.16">
<polygon points="1367.1,1068.9 1407.9,1056.6 1430.0,1066.4 1392.4,1082.0" fill="#bcdc74" />
<polygon points="1367.1,1068.9 1392.4,1082.0 1392.4,1162.1 1367.1,1149.0" fill="url(#lg1)" />
<polygon points="1396.5,1084.4 1447.2,1067.2 1422.7,1053.3 1452.1,1044.4 1515.9,1068.1 1433.3,1101.6" fill="url(#lg3)" />
<polygon points="1396.5,1084.4 1433.3,1101.6 1433.3,1184.2 1396.5,1163.7" fill="url(#lg2)" />
<polygon points="1443.9,1108.1 1548.6,1065.6 1470.1,1038.6 1497.9,1030.5 1625.4,1066.4 1492.2,1124.5" fill="#125f90" />
<polygon points="1443.9,1108.1 1492.2,1124.5 1492.2,1220.1 1443.9,1198.0" fill="url(#lg4)" />
<polygon points="1503.6,1131.8 1635.2,1075.4 1635.2,1135.9 1563.3,1176.8 1563.3,1147.4 1596.8,1133.5 1596.8,1122.8 1551.8,1140.8 1551.8,1203.8 1503.6,1229.1" fill="url(#lg5)" />
</g>
<path id="wmT" d="M 1329 1140 A 170 170 0 0 1 1669 1140" fill="none"/>
<path id="wmB" d="M 1302 1140 A 197 197 0 0 0 1696 1140" fill="none"/>
<text font-family="Liberation Sans" font-weight="bold" font-size="60" fill="#fff" stroke="#cfcfcf" stroke-width="1.5"><textPath href="#wmT" startOffset="11.1" textLength="511.8" lengthAdjust="spacing">SAIDINA GROUP</textPath></text>
<text font-family="Liberation Sans" font-weight="bold" font-size="62" fill="#fff" stroke="#cfcfcf" stroke-width="1.5"><textPath href="#wmB" startOffset="17.0" textLength="593.1" lengthAdjust="spacing">saidina.com.my</textPath></text>
<rect x="0.0" y="2157.8" width="966.0" height="94.2" stroke="#231f20" stroke-width="0" fill="#0a4a7a" stroke="none"/>
<polygon points="675.0,2116.2 700.0,2157.8 675.0,2157.8" fill="#1c6b6e" />
<rect x="58.8" y="2116.2" width="616.2" height="96.3" stroke="#231f20" stroke-width="0" fill="#0db8ac" stroke="none"/>
<text x="90.4" y="2156.0" font-family="Liberation Sans" font-size="36" font-weight="bold" fill="#fff" text-anchor="start" textLength="562.6" lengthAdjust="spacingAndGlyphs" >w w w . s a i d i n a . c o m . m y</text>
<ellipse cx="90" cy="2195" rx="14" ry="4" fill="#000" opacity="0.18"/>
<circle cx="89.5" cy="2180.4" r="15" fill="url(#fbg)" stroke="#e8eef5" stroke-width="1.5"/>
<path d="M 91.5 2194 L 91.5 2182 L 95.5 2182 L 96 2177.5 L 91.5 2177.5 L 91.5 2175 C 91.5 2173.5 92.3 2173 93.8 2173 L 96.2 2173 L 96.2 2169 C 95.5 2168.9 94.3 2168.8 92.9 2168.8 C 89.5 2168.8 87.3 2170.8 87.3 2174.5 L 87.3 2177.5 L 83.5 2177.5 L 83.5 2182 L 87.3 2182 L 87.3 2194 Z" fill="#fff"/>
<ellipse cx="254" cy="2195" rx="14" ry="4" fill="#000" opacity="0.18"/>
<circle cx="254" cy="2180.4" r="15" fill="url(#igg)"/>
<rect x="246" y="2172.4" width="16" height="16" rx="4.5" fill="none" stroke="#fff" stroke-width="2"/>
<circle cx="254" cy="2180.4" r="3.6" fill="none" stroke="#fff" stroke-width="1.8"/>
<ellipse cx="395" cy="2195" rx="14" ry="4" fill="#000" opacity="0.18"/>
<circle cx="394.7" cy="2180.4" r="15" fill="#ef6a26" stroke="#f7c3a0" stroke-width="1"/>
<path d="M 387 2171 L 396 2171 C 400 2171 402 2173.5 402 2176.5 L 402 2185 C 402 2188 400 2190 397 2190 L 391 2190 C 388.5 2190 387 2188.5 387 2186 Z" fill="#fff"/>
<rect x="390.5" y="2175.5" width="5.5" height="2.6" rx="1.3" fill="#ef6a26"/>
<rect x="390.5" y="2182.5" width="8" height="2.6" rx="1.3" fill="#ef6a26"/>
<text x="107.0" y="2184.9" font-family="Liberation Sans" font-size="21" font-weight="normal" fill="#fff" text-anchor="start" textLength="117.7" lengthAdjust="spacingAndGlyphs" >saidinaperabot</text>
<text x="272.6" y="2184.0" font-family="Liberation Sans" font-size="21" font-weight="normal" fill="#fff" text-anchor="start" textLength="101.4" lengthAdjust="spacingAndGlyphs" >saidinagroup</text>
<text x="414.5" y="2184.9" font-family="Liberation Sans" font-size="21" font-weight="normal" fill="#fff" text-anchor="start" textLength="240.1" lengthAdjust="spacingAndGlyphs" >pembekalperabot.blogspot.my</text>
<rect x="1981.5" y="2073.7" width="710.5" height="180.3" stroke="#231f20" stroke-width="0" fill="#0b4a7c" stroke="none"/>
<text x="2654.0" y="2108.3" font-family="Liberation Sans" font-size="25" font-weight="normal" fill="#fff" text-anchor="end" textLength="434.0" lengthAdjust="spacingAndGlyphs" stroke="#fff" stroke-width="0.6">SAIDINA EXCEL SERVICES SDN BHD</text>
<text x="2647.5" y="2137.5" font-family="Liberation Sans" font-size="21" font-weight="normal" fill="#fff" text-anchor="end" textLength="651.7" lengthAdjust="spacingAndGlyphs" stroke="#fff" stroke-width="0.6">No.8 Jalan Mahagoni 7/2A, Sekyen 4 Bandar Utama Batang Kali, 44300</text>
<text x="2647.5" y="2161.2" font-family="Liberation Sans" font-size="21" font-weight="normal" fill="#fff" text-anchor="end" textLength="415.0" lengthAdjust="spacingAndGlyphs" stroke="#fff" stroke-width="0.6">Batang Kali, Selangor Darul Ehsan, Malaysian.</text>
<text x="2647.5" y="2185.0" font-family="Liberation Sans" font-size="21" font-weight="normal" fill="#fff" text-anchor="end" textLength="279.5" lengthAdjust="spacingAndGlyphs" stroke="#fff" stroke-width="0.6">Website : www.saidina.com.my</text>
<text x="2647.5" y="2208.7" font-family="Liberation Sans" font-size="21" font-weight="normal" fill="#fff" text-anchor="end" textLength="295.0" lengthAdjust="spacingAndGlyphs" stroke="#fff" stroke-width="0.6">Email : perabot@saidina.com.my</text>
<text x="2647.5" y="2233.1" font-family="Liberation Sans" font-size="21" font-weight="normal" fill="#fff" text-anchor="end" textLength="400.1" lengthAdjust="spacingAndGlyphs" xml:space="preserve" stroke="#fff" stroke-width="0.6">Tel : +603 6057 1884   Fax : +603 6057 0305</text>
</svg>
</body></html>
